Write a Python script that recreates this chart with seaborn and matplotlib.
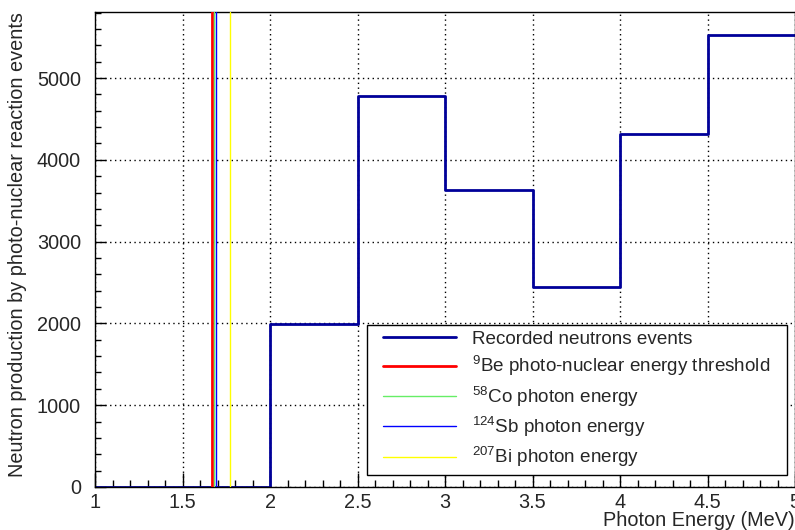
import matplotlib
matplotlib.use("Agg")
import matplotlib.pyplot as plt
import seaborn as sns
import numpy as np
import pandas as pd
from matplotlib.ticker import MultipleLocator
from matplotlib.lines import Line2D
from matplotlib.legend_handler import HandlerLine2D

# ---- data ----
bin_edges = [1.0, 1.5, 2.0, 2.5, 3.0, 3.5, 4.0, 4.5, 5.0]
bin_counts = [0, 0, 1995, 4780, 3630, 2440, 4315, 5520]
line_energies = [1.668, 1.680, 1.691, 1.770]
line_labels = [r"$^{9}$Be photo-nuclear energy threshold",
               r"$^{58}$Co photon energy",
               r"$^{124}$Sb photon energy",
               r"$^{207}$Bi photon energy"]
hist_label = "Recorded neutrons events"
x_title = "Photon Energy (MeV)"
y_title = "Neutron production by photo-nuclear reaction events"

# ---- style ----
sns.set_theme(style="white")
plt.rcParams['font.family'] = ['Liberation Sans', 'DejaVu Sans']
plt.rcParams['mathtext.fontset'] = 'custom'
plt.rcParams['mathtext.rm'] = 'Liberation Sans'
plt.rcParams['mathtext.it'] = 'Liberation Sans:italic'
plt.rcParams['mathtext.bf'] = 'Liberation Sans:bold'

fig = plt.figure(figsize=(7.95, 5.30), dpi=100)
ax = fig.add_axes([95/795, 43/530, 700/795, 475/530])

centers = [(a + b) / 2 for a, b in zip(bin_edges[:-1], bin_edges[1:])]
df = pd.DataFrame({"energy": centers, "count": bin_counts})
sns.histplot(data=df, x="energy", weights="count", bins=bin_edges,
             element="step", fill=False, color="#000099", linewidth=2,
             ax=ax, label=hist_label)

line_colors = ["#ff0000", "#66ee66", "#0000ff", "#ffff00"]
line_widths = [2, 1, 1, 1]
for e, c, w, l in zip(line_energies, line_colors, line_widths, line_labels):
    ax.axvline(e, color=c, lw=w, label=l, zorder=3)

ax.set_xlim(1, 5)
ax.set_ylim(0, 5807)

ax.xaxis.set_major_locator(MultipleLocator(0.5))
ax.xaxis.set_minor_locator(MultipleLocator(0.1))
ax.yaxis.set_major_locator(MultipleLocator(1000))
ax.yaxis.set_minor_locator(MultipleLocator(200))
ax.set_xticks([1, 1.5, 2, 2.5, 3, 3.5, 4, 4.5, 5])
ax.set_xticklabels(["1", "1.5", "2", "2.5", "3", "3.5", "4", "4.5", "5"])

ax.tick_params(axis="x", which="major", direction="in", length=10, width=1,
               labelsize=14.3, pad=4, color="black", top=False, bottom=True)
ax.tick_params(axis="x", which="minor", direction="in", length=5, width=1,
               color="black", bottom=True)
ax.tick_params(axis="y", which="major", direction="in", length=8, width=1,
               labelsize=14.3, pad=10, color="black", left=True)
ax.tick_params(axis="y", which="minor", direction="in", length=4, width=1,
               color="black", left=True)

ax.grid(True, which="major", color="black", linestyle=(0, (1, 2.5)), linewidth=1)
ax.set_axisbelow(True)

for s in ax.spines.values():
    s.set_color("black")
    s.set_linewidth(1)

ax.set_xlabel("")
ax.set_ylabel("")
fig.text(795/795, 1 - 521/530, x_title, ha="right", va="center", fontsize=14.3)
fig.text(18/795, 1 - 12/530, y_title, ha="center", va="top", rotation=90, fontsize=14.3)

handles, labels = ax.get_legend_handles_labels()
leg = ax.legend(handles, labels, loc="lower left",
                bbox_to_anchor=((367-95)/700, (487-475)/475, 420/700, 152/475),
                mode="expand", fontsize=13.6, frameon=True, fancybox=False,
                edgecolor="black", framealpha=1, handlelength=4.4,
                handletextpad=0.85, labelspacing=0.33, borderpad=0.3,
                borderaxespad=0,
                handler_map={Line2D: HandlerLine2D(xpad=0.53)})
leg.get_frame().set_linewidth(1)
leg.set_zorder(5)

fig.savefig("out.png", dpi=100)
